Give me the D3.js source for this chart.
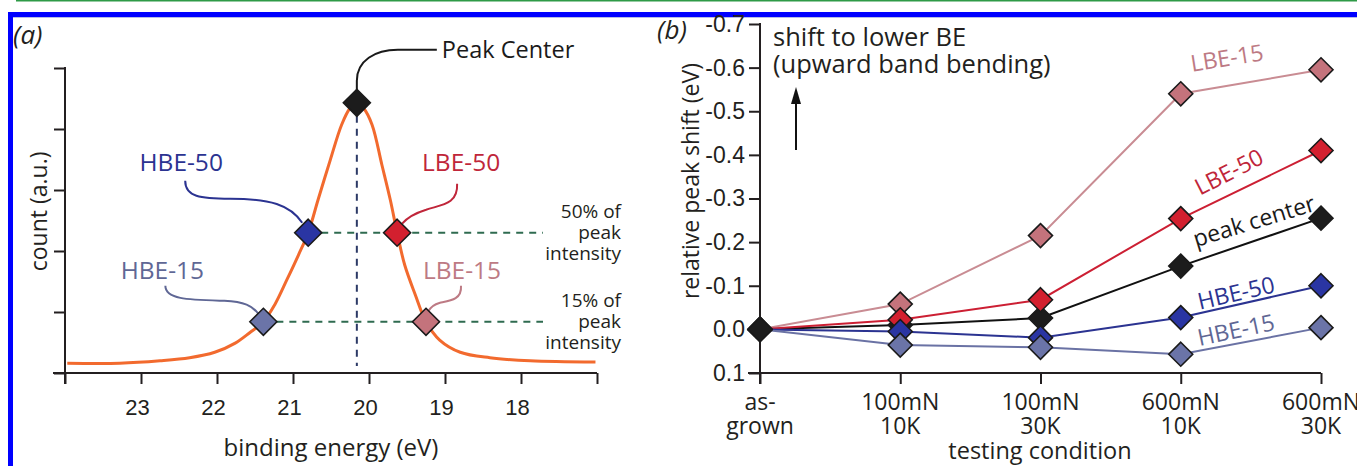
<!DOCTYPE html>
<html>
<head>
<meta charset="utf-8">
<script src="https://cdn.jsdelivr.net/npm/d3@7"></script>
<style>
  body { margin: 0; background: #fff; }
  svg { display: block; font-family: "Open Sans", "Noto Sans", sans-serif; }
  .tick text { fill: #231f20; }
</style>
</head>
<body>
<svg id="chart" width="1357" height="466"></svg>
<script>
// ---- panel (a): peak spectrum ----
const spectrumBE = [23.97, 23.28, 22.75, 22.36, 22.03, 21.76, 21.57, 21.39, 21.24, 21.08, 20.93, 20.80,
                    20.67, 20.51, 20.36, 20.25, 20.16, 20.07, 19.96, 19.83, 19.72, 19.63, 19.53, 19.39,
                    19.25, 19.07, 18.80, 18.41, 17.88, 17.02];
const spectrumCount = [0.16, 0.16, 0.20, 0.25, 0.34, 0.49, 0.66, 0.84, 1.12, 1.53, 1.93, 2.30,
                       2.84, 3.49, 4.07, 4.34, 4.43, 4.34, 4.07, 3.41, 2.84, 2.30, 1.77, 1.28,
                       0.84, 0.54, 0.34, 0.25, 0.20, 0.18];
const markerNamesA = ["Peak Center", "HBE-50", "LBE-50", "HBE-15", "LBE-15"];
const markerBE = [20.16, 20.80, 19.63, 21.39, 19.25];
const markerCount = [4.43, 2.30, 2.30, 0.84, 0.84];
const beTicks = [24, 23, 22, 21, 20, 19, 18, 17];
const beTickLabels = ["", "23", "22", "21", "20", "19", "18", ""];
const countTicks = [0, 1, 2, 3, 4, 5];

// ---- panel (b): relative peak shift ----
const conditions = ["as-grown", "100mN 10K", "100mN 30K", "600mN 10K", "600mN 30K"];
const conditionLines = [["as-", "grown"], ["100mN", "10K"], ["100mN", "30K"], ["600mN", "10K"], ["600mN", "30K"]];
const shiftLBE15 = [0, -0.058, -0.215, -0.540, -0.595];
const shiftLBE50 = [0, -0.022, -0.068, -0.254, -0.410];
const shiftPeak  = [0, -0.010, -0.026, -0.145, -0.255];
const shiftHBE50 = [0, 0.005, 0.019, -0.027, -0.100];
const shiftHBE15 = [0, 0.036, 0.041, 0.057, -0.004];
const shiftTicks = [-0.7, -0.6, -0.5, -0.4, -0.3, -0.2, -0.1, 0.0, 0.1];

const ink = "#231f20";
const col = {
  peak:  { fill: "#1c1c1c", line: "#111111", text: "#1a1a1a" },
  hbe50: { fill: "#2a35a3", line: "#2b3391", text: "#2b3391" },
  lbe50: { fill: "#d3202f", line: "#cc1f33", text: "#c0263a" },
  hbe15: { fill: "#6b74a8", line: "#6a72a4", text: "#5f6795" },
  lbe15: { fill: "#c4737c", line: "#c98c93", text: "#bd7a84" }
};

const svg = d3.select("#chart");

// frame
svg.append("line").attr("x1", 16).attr("x2", 1357).attr("y1", 0.5).attr("y2", 0.5)
  .attr("stroke", "#2e9a47").attr("stroke-width", 2);
svg.append("rect").attr("x", 10.5).attr("y", 14.5).attr("width", 1400).attr("height", 500)
  .attr("fill", "none").attr("stroke", "#0000ff").attr("stroke-width", 5);
svg.append("line").attr("x1", 13).attr("x2", 1357).attr("y1", 17.5).attr("y2", 17.5)
  .attr("stroke", "#b8bde8").attr("stroke-width", 1);

function diamond(g, x, y, r, fill) {
  g.append("path")
    .attr("d", `M${x},${y - r}L${x + r},${y}L${x},${y + r}L${x - r},${y}Z`)
    .attr("fill", fill).attr("stroke", "#1a1a1a").attr("stroke-width", 1.6);
}

// ================= panel (a) =================
const xa = d3.scaleLinear().domain([24, 17]).range([65, 597]);
const ya = d3.scaleLinear().domain([0, 5]).range([373, 68]);
const ga = svg.append("g");

ga.append("text").attr("x", 13).attr("y", 44).style("font-style", "italic")
  .style("font-size", "26px").attr("fill", ink).text("(a)");

const axA = ga.append("g").attr("transform", `translate(0,${ya(0)})`)
  .call(d3.axisBottom(xa).tickValues(beTicks).tickSize(11).tickPadding(15)
        .tickFormat((d, i) => beTickLabels[i]));
axA.select(".domain").remove();
axA.selectAll(".tick line").attr("stroke", ink).attr("stroke-width", 2);
axA.selectAll(".tick text").style("font-size", "22px").attr("dx", -4);
ga.append("line").attr("x1", xa(24) - 12).attr("x2", xa(17)).attr("y1", ya(0)).attr("y2", ya(0))
  .attr("stroke", ink).attr("stroke-width", 2);

const ayA = ga.append("g").attr("transform", `translate(${xa(24)},0)`)
  .call(d3.axisLeft(ya).tickValues(countTicks).tickSize(11).tickFormat(""));
ayA.select(".domain").remove();
ayA.selectAll(".tick line").attr("stroke", ink).attr("stroke-width", 2);
ga.append("line").attr("x1", xa(24)).attr("x2", xa(24)).attr("y1", ya(5) - 1).attr("y2", ya(0) + 11)
  .attr("stroke", ink).attr("stroke-width", 2);

ga.append("text").attr("transform", `translate(47,${ya(2.65)}) rotate(-90)`)
  .attr("text-anchor", "middle").style("font-size", "23px").attr("fill", ink).text("count (a.u.)");
ga.append("text").attr("x", xa(20.5)).attr("y", 456).attr("text-anchor", "middle")
  .style("font-size", "24px").attr("fill", ink).text("binding energy (eV)");

// guide lines
ga.append("line").attr("x1", xa(markerBE[0])).attr("x2", xa(markerBE[0]))
  .attr("y1", ya(markerCount[0])).attr("y2", 366)
  .attr("stroke", "#2c3a66").attr("stroke-width", 2).attr("stroke-dasharray", "7,6");
[1, 3].forEach(i => {
  ga.append("line").attr("x1", xa(markerBE[i])).attr("x2", 543)
    .attr("y1", ya(markerCount[i])).attr("y2", ya(markerCount[i]))
    .attr("stroke", "#2f6b50").attr("stroke-width", 2).attr("stroke-dasharray", "7,6");
});

// spectrum
const spec = spectrumBE.map((b, i) => [b, spectrumCount[i]]);
ga.append("path").datum(spec)
  .attr("fill", "none").attr("stroke", "#f26a2e").attr("stroke-width", 3)
  .attr("d", d3.line().x(d => xa(d[0])).y(d => ya(d[1])).curve(d3.curveCatmullRom.alpha(0.5)));

// leaders + labels
const mx = i => xa(markerBE[i]), my = i => ya(markerCount[i]);
const leaders = [
  { i: 0, c: col.peak.text,
    d: `M${mx(0)},${my(0) - 12} L${mx(0)},${my(0) - 22} C${mx(0)},${my(0) - 42} ${mx(0) + 18},${my(0) - 53} ${mx(0) + 41},${my(0) - 53} L${mx(0) + 80},${my(0) - 53}`,
    tx: mx(0) + 85, ty: my(0) - 45, anchor: "start", label: "Peak Center", fs: 23.5 },
  { i: 1, c: col.hbe50.text,
    d: `M${mx(1) - 123},${my(1) - 52} C${mx(1) - 123},${my(1) - 36} ${mx(1) - 108},${my(1) - 34} ${mx(1) - 78},${my(1) - 34} C${mx(1) - 38},${my(1) - 34} ${mx(1) - 18},${my(1) - 28} ${mx(1) - 6},${my(1) - 10}`,
    tx: mx(1) - 127, ty: my(1) - 62, anchor: "middle", label: "HBE-50", fs: 24.5 },
  { i: 2, c: col.lbe50.text,
    d: `M${mx(2) + 60},${my(2) - 49} C${mx(2) + 61},${my(2) - 28} ${mx(2) + 44},${my(2) - 28} ${mx(2) + 29},${my(2) - 23} C${mx(2) + 16},${my(2) - 19} ${mx(2) + 10},${my(2) - 15} ${mx(2) + 5},${my(2) - 9}`,
    tx: mx(2) + 64, ty: my(2) - 62, anchor: "middle", label: "LBE-50", fs: 24.5 },
  { i: 3, c: col.hbe15.text,
    d: `M${mx(3) - 98},${my(3) - 36} C${mx(3) - 98},${my(3) - 22} ${mx(3) - 74},${my(3) - 22} ${mx(3) - 39},${my(3) - 21} C${mx(3) - 19},${my(3) - 20} ${mx(3) - 11},${my(3) - 16} ${mx(3) - 5},${my(3) - 8}`,
    tx: mx(3) - 101, ty: my(3) - 43, anchor: "middle", label: "HBE-15", fs: 24.5 },
  { i: 4, c: col.lbe15.text,
    d: `M${mx(4) + 35},${my(4) - 36} C${mx(4) + 36},${my(4) - 22} ${mx(4) + 24},${my(4) - 21} ${mx(4) + 14},${my(4) - 19} C${mx(4) + 7},${my(4) - 17} ${mx(4) + 4},${my(4) - 14} ${mx(4) + 2},${my(4) - 10}`,
    tx: mx(4) + 36, ty: my(4) - 43, anchor: "middle", label: "LBE-15", fs: 24.5 }
];
leaders.forEach(l => {
  ga.append("path").attr("d", l.d).attr("fill", "none").attr("stroke", l.c).attr("stroke-width", 2);
  ga.append("text").attr("x", l.tx).attr("y", l.ty).attr("text-anchor", l.anchor)
    .style("font-size", l.fs + "px").attr("fill", l.c).text(l.label);
});

// markers
const fillsA = [col.peak.fill, col.hbe50.fill, col.lbe50.fill, col.hbe15.fill, col.lbe15.fill];
markerBE.forEach((b, i) => diamond(ga, xa(b), ya(markerCount[i]), 13.5, fillsA[i]));

// percent notes
[["50% of", "peak", "intensity", markerCount[1]], ["15% of", "peak", "intensity", markerCount[3]]].forEach(n => {
  const yc = ya(n[3]);
  [n[0], n[1], n[2]].forEach((t, k) => {
    ga.append("text").attr("x", 621).attr("y", yc - 15 + k * 21).attr("text-anchor", "end")
      .style("font-size", "19px").attr("fill", ink).text(t);
  });
});

// ================= panel (b) =================
const xb = d3.scalePoint().domain(conditions).range([760, 1321]);
const yb = d3.scaleLinear().domain([-0.7, 0.1]).range([24, 373]);
const gb = svg.append("g");

gb.append("text").attr("x", 657).attr("y", 39).style("font-style", "italic")
  .style("font-size", "26px").attr("fill", ink).text("(b)");

const ayB = gb.append("g").attr("transform", "translate(760,0)")
  .call(d3.axisLeft(yb).tickValues(shiftTicks).tickSize(11).tickPadding(4)
        .tickFormat(v => (Math.abs(v) < 1e-9 ? 0 : v).toFixed(1)));
ayB.select(".domain").remove();
ayB.selectAll(".tick line").attr("stroke", ink).attr("stroke-width", 2);
ayB.selectAll(".tick text").style("font-size", "23px");
gb.append("line").attr("x1", 760).attr("x2", 760).attr("y1", yb(-0.7) - 1).attr("y2", yb(0.1) + 11)
  .attr("stroke", ink).attr("stroke-width", 2);

const axB = gb.append("g").attr("transform", `translate(0,${yb(0.1)})`)
  .call(d3.axisBottom(xb).tickSize(11).tickFormat(""));
axB.select(".domain").remove();
axB.selectAll(".tick line").attr("stroke", ink).attr("stroke-width", 2);
gb.append("line").attr("x1", 748).attr("x2", xb(conditions[4])).attr("y1", yb(0.1)).attr("y2", yb(0.1))
  .attr("stroke", ink).attr("stroke-width", 2);
conditions.forEach((c, i) => {
  const t = gb.append("text").attr("x", xb(c)).attr("y", 410).attr("text-anchor", "middle")
    .style("font-size", "23px").attr("fill", ink);
  t.append("tspan").attr("x", xb(c)).text(conditionLines[i][0]);
  t.append("tspan").attr("x", xb(c)).attr("dy", 24).text(conditionLines[i][1]);
});

gb.append("text").attr("x", 1040).attr("y", 459).attr("text-anchor", "middle")
  .style("font-size", "23.5px").attr("fill", ink).text("testing condition");
gb.append("text").attr("transform", `translate(699,${yb(-0.34)}) rotate(-90)`)
  .attr("text-anchor", "middle").style("font-size", "23px").attr("fill", ink).text("relative peak shift (eV)");

gb.append("text").attr("x", 773).attr("y", 46).style("font-size", "25.5px").attr("fill", ink).text("shift to lower BE");
gb.append("text").attr("x", 773).attr("y", 73).style("font-size", "25.5px").attr("fill", ink).text("(upward band bending)");
gb.append("line").attr("x1", 796).attr("x2", 796).attr("y1", 150).attr("y2", 100)
  .attr("stroke", "#111").attr("stroke-width", 2);
gb.append("path").attr("d", "M796,87 L801,104 L791,104 Z").attr("fill", "#111");

const seriesB = [
  { key: "LBE-15", vals: shiftLBE15, c: col.lbe15, lx: 1227, ly: 58, rot: -9 },
  { key: "peak center", vals: shiftPeak, c: col.peak, lx: 1254, ly: 221, rot: -17 },
  { key: "LBE-50", vals: shiftLBE50, c: col.lbe50, lx: 1229, ly: 172, rot: -27 },
  { key: "HBE-50", vals: shiftHBE50, c: col.hbe50, lx: 1236, ly: 293, rot: -13 },
  { key: "HBE-15", vals: shiftHBE15, c: col.hbe15, lx: 1236, ly: 330, rot: -12 }
];
const lineB = d3.line().x((d, i) => xb(conditions[i])).y(d => yb(d));
seriesB.forEach(s => {
  gb.append("path").datum(s.vals).attr("fill", "none").attr("stroke", s.c.line)
    .attr("stroke-width", 2).attr("d", lineB);
});
seriesB.forEach(s => {
  s.vals.forEach((v, i) => diamond(gb, xb(conditions[i]), yb(v), 12, s.c.fill));
  gb.append("text").attr("transform", `translate(${s.lx},${s.ly}) rotate(${s.rot})`)
    .attr("text-anchor", "middle").attr("dy", "0.35em").style("font-size", "23px")
    .attr("fill", s.c.text).text(s.key);
});
// black as-grown point sits on top
diamond(gb, xb(conditions[0]), yb(0), 12, col.peak.fill);
</script>
</body>
</html>
